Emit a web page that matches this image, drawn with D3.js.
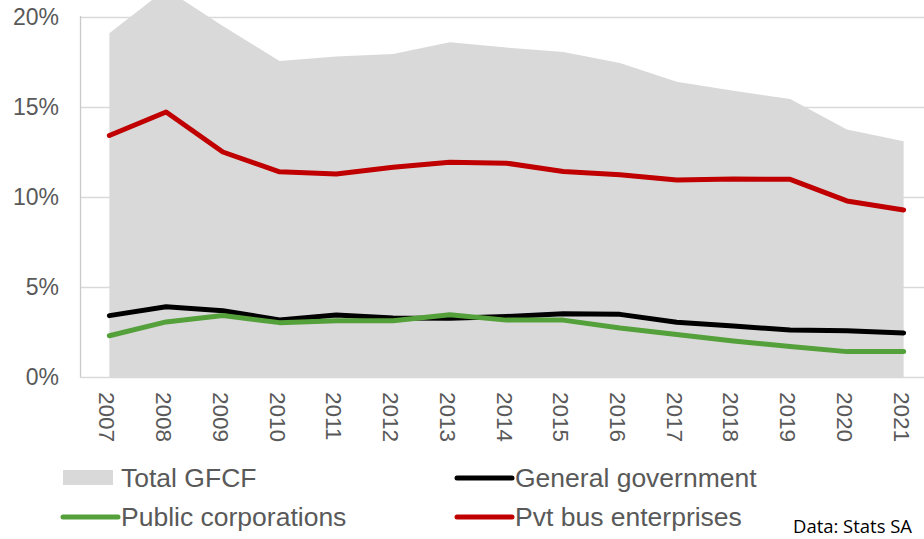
<!DOCTYPE html>
<html>
<head>
<meta charset="utf-8">
<script src="https://cdn.jsdelivr.net/npm/d3@7"></script>
<style>
  html, body { margin: 0; padding: 0; background: #fff; }
  svg { display: block; }
</style>
</head>
<body>
<svg id="chart" width="924" height="539"></svg>
<script>
// Gross fixed capital formation as % of GDP, by sector
const years = ["2007","2008","2009","2010","2011","2012","2013","2014","2015","2016","2017","2018","2019","2020","2021"];
const totalGFCF = [19.1, 21.55, 19.5, 17.55, 17.8, 17.95, 18.6, 18.3, 18.05, 17.45, 16.4, 15.9, 15.45, 13.75, 13.1];
const generalGov = [3.41, 3.9, 3.68, 3.17, 3.45, 3.28, 3.26, 3.36, 3.52, 3.48, 3.04, 2.83, 2.61, 2.57, 2.45];
const publicCorp = [2.29, 3.06, 3.42, 3.02, 3.12, 3.12, 3.46, 3.16, 3.16, 2.72, 2.36, 2.0, 1.7, 1.41, 1.41];
const pvtBus = [13.42, 14.72, 12.5, 11.4, 11.28, 11.65, 11.93, 11.88, 11.42, 11.24, 10.94, 11.0, 10.98, 9.78, 9.28];
const yTicks = [0, 5, 10, 15, 20];
const legendLabels = ["Total GFCF", "General government", "Public corporations", "Pvt bus enterprises"];
const sourceNote = "Data: Stats SA";

const svg = d3.select("#chart");
const plotLeft = 81, plotRight = 932, plotTop = 17, plotBottom = 377;

const x = d3.scaleBand().domain(years).range([plotLeft, plotRight]).paddingInner(0).paddingOuter(0);
const cx = d => x(d) + x.bandwidth() / 2;
const y = d3.scaleLinear().domain([0, 20]).range([plotBottom, plotTop]);

const grey = "#595959";

// horizontal gridlines
const grid = svg.append("g")
  .attr("transform", `translate(${plotLeft},0)`)
  .call(d3.axisLeft(y).tickValues(yTicks.slice(1)).tickSize(-(924 - plotLeft)).tickFormat(""));
grid.select(".domain").remove();
grid.selectAll("line").attr("stroke", "#d9d9d9").attr("stroke-width", 1.3);

// total GFCF area
const area = d3.area()
  .x((d, i) => cx(years[i]))
  .y0(y(0))
  .y1(d => y(d));
svg.append("path").datum(totalGFCF)
  .attr("d", area)
  .attr("fill", "#d9d9d9");

// axis lines
svg.append("line").attr("x1", plotLeft - 0.5).attr("x2", plotLeft - 0.5).attr("y1", plotTop - 1).attr("y2", plotBottom + 0.5)
  .attr("stroke", "#c9c9c9").attr("stroke-width", 1.3);
svg.append("line").attr("x1", plotLeft - 1).attr("x2", 924).attr("y1", plotBottom + 0.5).attr("y2", plotBottom + 0.5)
  .attr("stroke", "#d9d9d9").attr("stroke-width", 1.3);

// sector lines
const line = d3.line().x((d, i) => cx(years[i])).y(d => y(d));
const series = [
  { values: generalGov, color: "#000000" },
  { values: publicCorp, color: "#54a03a" },
  { values: pvtBus, color: "#c00000" }
];
series.forEach(s => {
  svg.append("path").datum(s.values)
    .attr("d", line)
    .attr("fill", "none")
    .attr("stroke", s.color)
    .attr("stroke-width", 5)
    .attr("stroke-linejoin", "round")
    .attr("stroke-linecap", "round");
});

// y axis labels
const yAxis = svg.append("g")
  .attr("transform", `translate(${plotLeft},0)`)
  .call(d3.axisLeft(y).tickValues(yTicks).tickSize(0).tickPadding(22).tickFormat(d => d + "%"));
yAxis.select(".domain").remove();
yAxis.selectAll("text")
  .attr("font-family", "Liberation Sans, Arial, sans-serif")
  .attr("font-size", 23)
  .attr("fill", grey);

// x axis labels, rotated
const xAxis = svg.append("g")
  .attr("transform", `translate(0,${plotBottom})`)
  .call(d3.axisBottom(x).tickSize(0).tickPadding(0));
xAxis.select(".domain").remove();
xAxis.selectAll(".tick text")
  .attr("font-family", "Liberation Sans, Arial, sans-serif")
  .attr("font-size", 22.5)
  .attr("fill", grey)
  .attr("text-anchor", "start")
  .attr("dy", null)
  .attr("y", 0)
  .attr("transform", "translate(-10,15) rotate(90)");

// legend
const legend = svg.append("g")
  .attr("font-family", "Liberation Sans, Arial, sans-serif")
  .attr("font-size", 26.5)
  .attr("fill", grey);
const legendItems = [
  { label: legendLabels[0], kind: "area", color: "#d9d9d9", x: 63, y: 478 },
  { label: legendLabels[1], kind: "line", color: "#000000", x: 457, y: 478 },
  { label: legendLabels[2], kind: "line", color: "#54a03a", x: 63, y: 517 },
  { label: legendLabels[3], kind: "line", color: "#c00000", x: 457, y: 517 }
];
legendItems.forEach(it => {
  if (it.kind === "area") {
    svg.append("rect").attr("x", it.x).attr("y", it.y - 8).attr("width", 50).attr("height", 15).attr("fill", it.color);
  } else {
    svg.append("line").attr("x1", it.x).attr("x2", it.x + 55).attr("y1", it.y).attr("y2", it.y)
      .attr("stroke", it.color).attr("stroke-width", 5).attr("stroke-linecap", "round");
  }
  legend.append("text")
    .attr("x", it.x + 58)
    .attr("y", it.y + 9)
    .text(it.label);
});

// source note
svg.append("text")
  .attr("x", 793).attr("y", 533)
  .attr("font-family", "Open Sans, sans-serif")
  .attr("font-size", 17.5)
  .attr("textLength", 119)
  .attr("lengthAdjust", "spacingAndGlyphs")
  .attr("fill", "#000")
  .text(sourceNote);
</script>
</body>
</html>
